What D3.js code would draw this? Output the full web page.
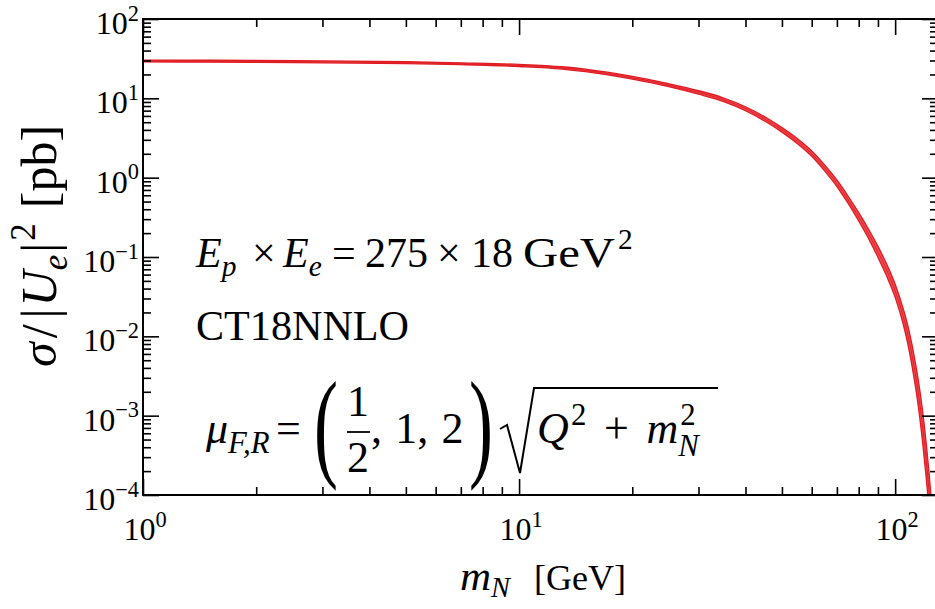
<!DOCTYPE html>
<html><head><meta charset="utf-8">
<script src="https://cdn.jsdelivr.net/npm/d3@7"></script>
<style>
body{margin:0;background:#fff}
svg{display:block}
text{font-family:"Liberation Serif","Times New Roman",serif;fill:#000}
</style>
</head><body>
<svg id="chart" width="935" height="609"></svg>
<script>
// ---- data ----
const massGeV      = [1, 1.5, 2, 3, 5, 7, 10, 13, 15, 20, 25, 30, 35, 40, 45, 50, 55, 60, 65, 70, 75, 80, 85, 90, 95, 100, 105, 108, 112, 115, 118, 121, 123, 125];
const sigmaCentral = [29.6, 29.4, 29.2, 28.8, 28.1, 27.3, 26.0, 24.2, 22.5, 18.2, 14.7, 11.9, 9.6, 7.4, 5.5, 4.0, 2.88, 2.01, 1.32, 0.85, 0.525, 0.321, 0.195, 0.116, 0.0678, 0.0375, 0.0180, 0.0106, 0.00442, 0.00205, 8.1e-4, 2.68e-4, 1.15e-4, 4.5e-5];
const sigmaHigh    = [30.4, 30.2, 30.0, 29.6, 28.9, 28.0, 26.8, 25.0, 23.3, 18.9, 15.3, 12.5, 10.1, 7.84, 5.85, 4.27, 3.09, 2.17, 1.44, 0.935, 0.583, 0.363, 0.224, 0.136, 0.0807, 0.0454, 0.0225, 0.0138, 0.0061, 0.00297, 1.26e-3, 4.42e-4, 1.96e-4, 7.9e-5];
const sigmaLow     = [28.8, 28.6, 28.4, 28.0, 27.4, 26.6, 25.2, 23.4, 21.7, 17.5, 14.1, 11.3, 9.1, 6.98, 5.17, 3.75, 2.68, 1.86, 1.21, 0.773, 0.473, 0.284, 0.170, 0.0991, 0.0570, 0.0310, 0.0144, 0.00815, 0.0032, 0.00141, 5.2e-4, 1.62e-4, 6.8e-5, 2.6e-5];
const xMajorTicks  = [1, 10, 100];
const xTickExps    = ["0", "1", "2"];
const xMinorTicks  = [2,3,4,5,6,7,8,9,20,30,40,50,60,70,80,90];
const yMajorTicks  = [1e2, 1e1, 1e0, 1e-1, 1e-2, 1e-3, 1e-4];
const yTickExps    = ["2", "1", "0", "\u22121", "\u22122", "\u22123", "\u22124"];
const xDomain = [1, 130];
const yDomain = [1e-4, 1e2];

// ---- layout ----
const L = 143, R = 938, T = 19, B = 495;
const svg = d3.select("#chart");
const x = d3.scaleLog().domain(xDomain).range([L, R]);
const y = d3.scaleLog().domain(yDomain).range([B, T]);

const yMinorTicks = [];
yMajorTicks.slice(1).forEach(d => { for (let k = 2; k <= 9; k++) yMinorTicks.push(d * k); });

svg.append("defs").append("clipPath").attr("id","clip")
  .append("rect").attr("x", L).attr("y", T).attr("width", R - L).attr("height", B - T);

// band + edges
const pts = massGeV.map((m, i) => ({m, c: sigmaCentral[i], lo: sigmaLow[i], hi: sigmaHigh[i]}));
const gCurve = svg.append("g").attr("clip-path","url(#clip)");
gCurve.append("path").datum(pts)
  .attr("d", d3.area().curve(d3.curveMonotoneX).x(d => x(d.m)).y0(d => y(d.lo)).y1(d => y(d.hi)))
  .attr("fill", "#ea3036").attr("fill-opacity", 0.85);
[["lo",1.3],["hi",1.3],["c",0.9]].forEach(([k,w]) => {
  gCurve.append("path").datum(pts)
    .attr("d", d3.line().curve(d3.curveMonotoneX).x(d => x(d.m)).y(d => y(d[k])))
    .attr("fill","none").attr("stroke","#e01b22").attr("stroke-width", w);
});

// ticks inward on all four sides
function ticks(axisFn, scale, vals, size, transform) {
  const g = svg.append("g").attr("transform", transform)
    .call(axisFn(scale).tickValues(vals).tickSize(size).tickFormat(""));
  g.select(".domain").remove();
  g.selectAll(".tick line").attr("stroke","#000").attr("stroke-width",1.6);
}
ticks(d3.axisBottom, x, xMajorTicks, -16, `translate(0,${B})`);
ticks(d3.axisBottom, x, xMinorTicks, -8, `translate(0,${B})`);
ticks(d3.axisTop, x, xMajorTicks, -16, `translate(0,${T})`);
ticks(d3.axisTop, x, xMinorTicks, -8, `translate(0,${T})`);
ticks(d3.axisLeft, y, yMajorTicks, -16, `translate(${L},0)`);
ticks(d3.axisLeft, y, yMinorTicks, -8, `translate(${L},0)`);
ticks(d3.axisRight, y, yMajorTicks, -16, `translate(${R},0)`);
ticks(d3.axisRight, y, yMinorTicks, -8, `translate(${R},0)`);

svg.append("rect").attr("x", L).attr("y", T).attr("width", R - L).attr("height", B - T)
  .attr("fill","none").attr("stroke","#000").attr("stroke-width", 2);

// tick labels
const TFS = 32;
function powLabel(px, py, exp, anchor) {
  const t = svg.append("text").attr("x", px).attr("y", py).attr("text-anchor", anchor)
    .style("font-size", TFS + "px");
  t.append("tspan").text("10");
  t.append("tspan").attr("dy", -0.42 * TFS).style("font-size", (0.7 * TFS) + "px").text(exp);
}
xMajorTicks.forEach((v, i) => powLabel(x(v) + 2, 540, xTickExps[i], "middle"));
yMajorTicks.forEach((v, i) => powLabel(139, y(v) + 15, yTickExps[i], "end"));

// text piece helper: returns right edge
function piece(g, px, py, txt, fs, italic, len) {
  const t = g.append("text").attr("x", px).attr("y", py)
    .style("font-size", fs + "px").style("font-style", italic ? "italic" : "normal").text(txt);
  if (len) t.attr("textLength", len).attr("lengthAdjust", "spacingAndGlyphs");
  return px + (len || t.node().getComputedTextLength());
}
function seq(g, px, py, fs, items) {
  let cx = px;
  items.forEach(q => {
    cx += (q.gap || 0) * fs;
    const s = q.s || 1;
    cx = piece(g, cx, py + (q.dy || 0) * fs, q.t, fs * s, q.it);
  });
  return cx;
}

// x title
const gx = svg.append("g");
seq(gx, 460, 590, 43, [{t:"m",it:1},{t:"N",it:1,s:0.66,dy:0.17}]);
piece(gx, 534, 590, "[GeV]", 36, false);

// y title (rotated)
const gy = svg.append("g");
const wy = seq(gy, 0, 0, 50, [{t:"σ",it:1},{t:"/",gap:0.08},{t:"|",gap:0.12},{t:"U",it:1,gap:0.04},{t:"e",it:1,s:0.7,dy:0.22},
  {t:"|",gap:0.04},{t:"2",s:0.7,dy:-0.42,gap:0.04},{t:"[pb]",gap:0.3}]);
gy.attr("transform", `translate(56,${246 + wy / 2}) rotate(-90)`);

// annotation line 1
const A = 42, y1 = 267;
const g1 = svg.append("g");
seq(g1, 196, y1, A, [{t:"E",it:1},{t:"p",it:1,s:0.7,dy:0.22}]);
piece(g1, 252, y1, "×", A);
seq(g1, 283, y1, A, [{t:"E",it:1},{t:"e",it:1,s:0.7,dy:0.22}]);
piece(g1, 332, y1, "=", A);
piece(g1, 365, y1, "275", A);
piece(g1, 437, y1, "×", A);
piece(g1, 471, y1, "18", A);
const gevEnd = piece(g1, 523, y1, "GeV", A, false, 92);
piece(g1, gevEnd + 3, y1 - 0.42 * A, "2", A * 0.7);

// annotation line 2
piece(svg.append("g"), 196, 340, "CT18NNLO", A, false, 213);

// annotation line 3
const M = 44, yb = 443;
const g3 = svg.append("g");
seq(g3, 206, yb, M, [{t:"μ",it:1},{t:"F,R",it:1,s:0.7,dy:0.22}]);
piece(g3, 276, yb, "=", M);
function bigParen(ch, px) {
  g3.append("text").attr("transform", `translate(${px},${yb + 22}) scale(0.6,1)`)
    .style("font-size","120px").text(ch);
}
bigParen("(", 314);
g3.append("text").attr("x", 358).attr("y", yb - 27).attr("text-anchor","middle").style("font-size", M + "px").text("1");
g3.append("text").attr("x", 358).attr("y", yb + 29).attr("text-anchor","middle").style("font-size", M + "px").text("2");
g3.append("line").attr("x1", 347).attr("x2", 370).attr("y1", yb - 11).attr("y2", yb - 11)
  .attr("stroke","#000").attr("stroke-width",1.8);
seq(g3, 371, yb, M, [{t:","},{t:"1",gap:0.3},{t:","},{t:"2",gap:0.3}]);
bigParen(")", 469);
// radical sign
const r0 = 500;
g3.append("path").attr("d", `M${r0},${yb - 14} L${r0 + 7},${yb - 18} L${r0 + 20},${yb + 30} L${r0 + 34},${yb - 55} L718,${yb - 55}`)
  .attr("fill","none").attr("stroke","#000").attr("stroke-width",2).attr("stroke-linejoin","miter");
const qEnd = seq(g3, 537, yb, M, [{t:"Q",it:1},{t:"2",s:0.7,dy:-0.42,gap:0.05}]);
const plusEnd = piece(g3, qEnd + 0.4 * M, yb, "+", M);
const mEnd = piece(g3, plusEnd + 0.4 * M, yb, "m", M, true);
piece(g3, mEnd + 2, yb - 0.42 * M, "2", M * 0.7);
piece(g3, mEnd, yb + 0.3 * M, "N", M * 0.7, true);
</script>
</body></html>
